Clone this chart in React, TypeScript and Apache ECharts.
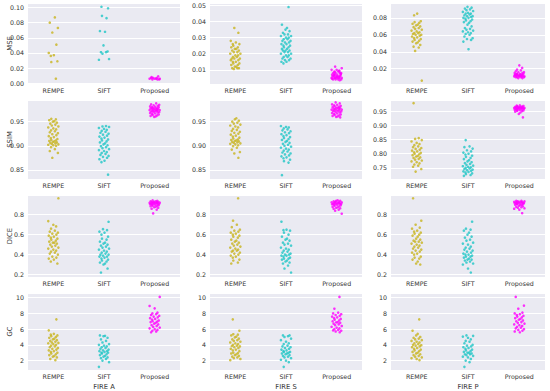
import React, { useEffect, useRef } from 'react';
import * as echarts from 'echarts';

const CATS = ['REMPE', 'SIFT', 'Proposed'];
const METRICS = ['MSE', 'SSIM', 'DICE', 'GC'];
const DATASETS = ['FIRE A', 'FIRE S', 'FIRE P'];

// ---- MSE ----
const MSE_A_REMPE = [0.087, 0.080, 0.073, 0.067, 0.051, 0.040, 0.037, 0.036, 0.029, 0.028, 0.006];
const MSE_A_SIFT = [0.101, 0.099, 0.089, 0.086, 0.069, 0.068, 0.050, 0.042, 0.041, 0.041, 0.039, 0.032, 0.031];
const MSE_A_PROP = [0.009, 0.008, 0.007, 0.007, 0.006, 0.006, 0.006, 0.005, 0.005, 0.006, 0.007, 0.005];

const MSE_S_REMPE = [0.036, 0.033, 0.028, 0.027, 0.026, 0.026, 0.025, 0.024, 0.024, 0.023, 0.023, 0.022, 0.022, 0.021, 0.021, 0.020, 0.020, 0.019, 0.019, 0.018, 0.018, 0.017, 0.017, 0.017, 0.016, 0.016, 0.015, 0.015, 0.014, 0.014, 0.013, 0.013, 0.012, 0.012, 0.011, 0.011, 0.011, 0.0105];
const MSE_S_SIFT = [0.049, 0.038, 0.036, 0.035, 0.034, 0.033, 0.032, 0.032, 0.031, 0.031, 0.030, 0.030, 0.029, 0.029, 0.028, 0.028, 0.027, 0.027, 0.026, 0.026, 0.025, 0.025, 0.024, 0.024, 0.023, 0.023, 0.022, 0.022, 0.022, 0.021, 0.021, 0.020, 0.020, 0.019, 0.019, 0.018, 0.018, 0.017, 0.017, 0.016, 0.016, 0.015, 0.015, 0.014];
const MSE_S_PROP = [0.012, 0.011, 0.010, 0.010, 0.009, 0.009, 0.009, 0.008, 0.008, 0.008, 0.008, 0.007, 0.007, 0.007, 0.007, 0.007, 0.006, 0.006, 0.006, 0.006, 0.006, 0.006, 0.005, 0.005, 0.005, 0.005, 0.005, 0.005, 0.005, 0.004, 0.004, 0.004, 0.004, 0.0035, 0.0045, 0.0055, 0.0065, 0.0075, 0.0085, 0.0095];

const MSE_P_REMPE = [0.085, 0.083, 0.076, 0.075, 0.074, 0.073, 0.072, 0.071, 0.070, 0.069, 0.068, 0.067, 0.066, 0.065, 0.064, 0.063, 0.062, 0.062, 0.061, 0.060, 0.060, 0.059, 0.058, 0.057, 0.056, 0.055, 0.054, 0.053, 0.052, 0.051, 0.050, 0.048, 0.046, 0.045, 0.041, 0.006];
const MSE_P_SIFT = [0.093, 0.092, 0.091, 0.090, 0.089, 0.088, 0.087, 0.086, 0.085, 0.085, 0.084, 0.083, 0.082, 0.082, 0.081, 0.080, 0.080, 0.079, 0.078, 0.077, 0.076, 0.075, 0.074, 0.072, 0.070, 0.068, 0.067, 0.066, 0.065, 0.064, 0.063, 0.062, 0.061, 0.060, 0.058, 0.056, 0.055, 0.054, 0.052, 0.043];
const MSE_P_PROP = [0.024, 0.021, 0.019, 0.018, 0.017, 0.016, 0.016, 0.015, 0.015, 0.014, 0.014, 0.014, 0.013, 0.013, 0.013, 0.013, 0.012, 0.012, 0.012, 0.012, 0.012, 0.011, 0.011, 0.011, 0.011, 0.010, 0.010, 0.010, 0.010, 0.009, 0.009, 0.0125, 0.0115, 0.0135];

// ---- SSIM ----
const SSIM_A_REMPE = [0.956, 0.955, 0.953, 0.951, 0.950, 0.948, 0.946, 0.944, 0.942, 0.940, 0.938, 0.936, 0.934, 0.932, 0.930, 0.928, 0.926, 0.924, 0.922, 0.920, 0.918, 0.916, 0.914, 0.912, 0.911, 0.910, 0.909, 0.908, 0.907, 0.906, 0.905, 0.904, 0.903, 0.902, 0.901, 0.900, 0.897, 0.893, 0.889, 0.885, 0.875];
const SSIM_A_SIFT = [0.941, 0.940, 0.939, 0.937, 0.935, 0.933, 0.931, 0.929, 0.927, 0.925, 0.923, 0.921, 0.919, 0.917, 0.915, 0.913, 0.911, 0.909, 0.907, 0.905, 0.903, 0.901, 0.899, 0.897, 0.895, 0.893, 0.891, 0.889, 0.887, 0.885, 0.883, 0.881, 0.879, 0.877, 0.875, 0.872, 0.869, 0.866, 0.840];
const SSIM_A_PROP = [0.988, 0.986, 0.985, 0.984, 0.983, 0.982, 0.981, 0.980, 0.980, 0.979, 0.978, 0.978, 0.977, 0.977, 0.976, 0.976, 0.975, 0.975, 0.974, 0.974, 0.973, 0.973, 0.972, 0.972, 0.971, 0.970, 0.970, 0.969, 0.968, 0.967, 0.966, 0.965, 0.964, 0.963, 0.962, 0.961, 0.960];

const SSIM_S_REMPE = [0.957, 0.955, 0.952, 0.950, 0.948, 0.946, 0.944, 0.942, 0.940, 0.938, 0.935, 0.933, 0.931, 0.929, 0.927, 0.925, 0.923, 0.921, 0.919, 0.917, 0.915, 0.913, 0.912, 0.911, 0.910, 0.909, 0.908, 0.907, 0.906, 0.905, 0.904, 0.903, 0.901, 0.899, 0.896, 0.892, 0.887, 0.884, 0.875];
const SSIM_S_SIFT = [0.941, 0.939, 0.938, 0.936, 0.934, 0.932, 0.930, 0.928, 0.926, 0.924, 0.922, 0.920, 0.918, 0.916, 0.914, 0.912, 0.910, 0.908, 0.906, 0.904, 0.902, 0.900, 0.898, 0.896, 0.894, 0.892, 0.890, 0.888, 0.886, 0.884, 0.882, 0.880, 0.878, 0.876, 0.874, 0.871, 0.868, 0.865, 0.839];
const SSIM_S_PROP = [0.990, 0.988, 0.986, 0.985, 0.984, 0.983, 0.982, 0.981, 0.980, 0.979, 0.979, 0.978, 0.977, 0.977, 0.976, 0.975, 0.975, 0.974, 0.974, 0.973, 0.972, 0.972, 0.971, 0.970, 0.969, 0.968, 0.967, 0.966, 0.965, 0.964, 0.963, 0.962, 0.961, 0.960, 0.959];

const SSIM_P_REMPE = [0.978, 0.855, 0.852, 0.848, 0.843, 0.838, 0.834, 0.830, 0.826, 0.823, 0.820, 0.817, 0.814, 0.811, 0.808, 0.805, 0.803, 0.800, 0.798, 0.795, 0.792, 0.790, 0.787, 0.785, 0.782, 0.779, 0.776, 0.773, 0.770, 0.766, 0.762, 0.758, 0.754, 0.746, 0.737];
const SSIM_P_SIFT = [0.848, 0.826, 0.823, 0.818, 0.812, 0.808, 0.804, 0.800, 0.797, 0.793, 0.789, 0.785, 0.781, 0.777, 0.773, 0.770, 0.767, 0.764, 0.761, 0.758, 0.756, 0.754, 0.752, 0.750, 0.748, 0.746, 0.744, 0.742, 0.740, 0.738, 0.736, 0.734, 0.731, 0.728, 0.725, 0.722];
const SSIM_P_PROP = [0.970, 0.969, 0.968, 0.967, 0.966, 0.965, 0.964, 0.964, 0.963, 0.963, 0.962, 0.962, 0.961, 0.961, 0.960, 0.960, 0.959, 0.959, 0.958, 0.958, 0.957, 0.956, 0.955, 0.954, 0.953, 0.952, 0.951, 0.950, 0.948, 0.945, 0.940, 0.928];

// ---- DICE ----
const DICE_A_REMPE = [0.965, 0.736, 0.699, 0.683, 0.66, 0.64, 0.63, 0.62, 0.61, 0.60, 0.59, 0.58, 0.57, 0.56, 0.55, 0.54, 0.53, 0.52, 0.52, 0.51, 0.50, 0.49, 0.48, 0.47, 0.46, 0.45, 0.44, 0.43, 0.42, 0.41, 0.40, 0.38, 0.37, 0.36, 0.35, 0.33, 0.31];
const DICE_A_SIFT = [0.729, 0.655, 0.645, 0.63, 0.62, 0.60, 0.58, 0.56, 0.55, 0.53, 0.52, 0.51, 0.50, 0.49, 0.48, 0.47, 0.46, 0.45, 0.44, 0.43, 0.42, 0.41, 0.40, 0.40, 0.39, 0.38, 0.38, 0.37, 0.36, 0.35, 0.34, 0.33, 0.32, 0.31, 0.30, 0.26, 0.22];
const DICE_A_PROP = [0.945, 0.94, 0.935, 0.935, 0.93, 0.93, 0.928, 0.925, 0.925, 0.922, 0.92, 0.92, 0.918, 0.915, 0.915, 0.912, 0.91, 0.91, 0.905, 0.905, 0.90, 0.90, 0.895, 0.89, 0.89, 0.885, 0.88, 0.875, 0.87, 0.86, 0.85, 0.813];

const DICE_S_REMPE = [0.965, 0.74, 0.70, 0.675, 0.65, 0.64, 0.63, 0.62, 0.61, 0.60, 0.59, 0.58, 0.57, 0.55, 0.54, 0.53, 0.52, 0.51, 0.50, 0.49, 0.48, 0.47, 0.46, 0.45, 0.44, 0.44, 0.43, 0.42, 0.41, 0.40, 0.39, 0.38, 0.37, 0.35, 0.34, 0.32, 0.31];
const DICE_S_SIFT = [0.73, 0.65, 0.645, 0.64, 0.62, 0.60, 0.58, 0.56, 0.55, 0.54, 0.52, 0.51, 0.50, 0.49, 0.47, 0.46, 0.45, 0.44, 0.43, 0.42, 0.41, 0.40, 0.40, 0.39, 0.39, 0.38, 0.37, 0.36, 0.36, 0.35, 0.34, 0.33, 0.32, 0.31, 0.29, 0.26, 0.22];
const DICE_S_PROP = [0.945, 0.94, 0.94, 0.935, 0.93, 0.93, 0.925, 0.925, 0.92, 0.92, 0.918, 0.915, 0.912, 0.91, 0.91, 0.908, 0.905, 0.90, 0.90, 0.895, 0.89, 0.885, 0.88, 0.875, 0.87, 0.865, 0.86, 0.85, 0.84, 0.81];

const DICE_P_REMPE = [0.965, 0.74, 0.70, 0.67, 0.66, 0.64, 0.63, 0.62, 0.61, 0.60, 0.59, 0.58, 0.56, 0.55, 0.54, 0.53, 0.53, 0.52, 0.51, 0.50, 0.49, 0.48, 0.47, 0.46, 0.45, 0.44, 0.43, 0.42, 0.41, 0.40, 0.38, 0.37, 0.36, 0.35, 0.33, 0.31, 0.30];
const DICE_P_SIFT = [0.73, 0.66, 0.65, 0.64, 0.62, 0.60, 0.58, 0.57, 0.55, 0.54, 0.52, 0.51, 0.50, 0.48, 0.47, 0.46, 0.45, 0.44, 0.43, 0.42, 0.41, 0.40, 0.40, 0.39, 0.38, 0.38, 0.37, 0.36, 0.35, 0.35, 0.34, 0.33, 0.32, 0.31, 0.30, 0.26, 0.22];
const DICE_P_PROP = [0.94, 0.94, 0.935, 0.935, 0.93, 0.93, 0.928, 0.925, 0.925, 0.922, 0.92, 0.918, 0.915, 0.915, 0.912, 0.91, 0.91, 0.905, 0.90, 0.90, 0.895, 0.89, 0.885, 0.88, 0.875, 0.87, 0.865, 0.86, 0.85, 0.815];

// ---- GC ----
const GC_A_REMPE = [7.25, 5.85, 5.4, 5.3, 5.2, 5.1, 5.0, 4.9, 4.8, 4.7, 4.6, 4.5, 4.4, 4.3, 4.25, 4.2, 4.1, 4.0, 3.9, 3.8, 3.7, 3.6, 3.5, 3.4, 3.3, 3.2, 3.1, 3.0, 2.9, 2.8, 2.7, 2.6, 2.5, 2.4, 2.2, 2.05];
const GC_A_SIFT = [5.2, 5.15, 5.1, 4.9, 4.7, 4.5, 4.3, 4.1, 4.0, 3.9, 3.8, 3.7, 3.6, 3.5, 3.4, 3.3, 3.2, 3.2, 3.1, 3.0, 3.0, 2.9, 2.8, 2.7, 2.6, 2.5, 2.4, 2.3, 2.2, 2.0, 1.8, 1.2];
const GC_A_PROP = [10.1, 8.95, 8.65, 8.1, 8.0, 7.9, 7.8, 7.7, 7.6, 7.5, 7.4, 7.3, 7.2, 7.1, 7.0, 6.95, 6.9, 6.8, 6.7, 6.6, 6.5, 6.4, 6.3, 6.2, 6.1, 6.0, 5.9, 5.8, 5.7, 5.6];

const GC_S_REMPE = [7.25, 5.8, 5.35, 5.3, 5.2, 5.05, 4.95, 4.8, 4.7, 4.6, 4.5, 4.4, 4.3, 4.2, 4.1, 4.0, 3.9, 3.85, 3.8, 3.7, 3.6, 3.5, 3.4, 3.3, 3.2, 3.0, 2.95, 2.9, 2.8, 2.7, 2.6, 2.5, 2.4, 2.3, 2.2, 2.05];
const GC_S_SIFT = [5.2, 5.2, 5.1, 5.0, 4.8, 4.6, 4.4, 4.2, 4.1, 3.9, 3.8, 3.7, 3.6, 3.5, 3.4, 3.3, 3.2, 3.1, 3.1, 3.0, 2.9, 2.9, 2.8, 2.7, 2.6, 2.5, 2.4, 2.3, 2.1, 2.0, 1.8, 1.2];
const GC_S_PROP = [10.1, 8.6, 8.1, 8.0, 7.9, 7.8, 7.7, 7.6, 7.5, 7.4, 7.3, 7.2, 7.1, 7.0, 6.9, 6.85, 6.8, 6.7, 6.6, 6.5, 6.4, 6.3, 6.2, 6.1, 6.0, 5.9, 5.85, 5.8, 5.7, 5.6];

const GC_P_REMPE = [7.25, 5.8, 5.4, 5.2, 5.0, 4.9, 4.8, 4.7, 4.6, 4.5, 4.4, 4.3, 4.2, 4.1, 4.0, 3.95, 3.9, 3.8, 3.7, 3.6, 3.5, 3.4, 3.3, 3.2, 3.1, 3.0, 2.9, 2.8, 2.7, 2.6, 2.5, 2.4, 2.3, 2.2, 2.05];
const GC_P_SIFT = [5.2, 5.15, 5.05, 4.9, 4.7, 4.5, 4.4, 4.2, 4.0, 3.9, 3.8, 3.7, 3.6, 3.5, 3.4, 3.3, 3.2, 3.1, 3.0, 3.0, 2.9, 2.8, 2.8, 2.7, 2.6, 2.5, 2.4, 2.2, 2.0, 1.8, 1.2];
const GC_P_PROP = [10.1, 9.0, 8.6, 8.1, 8.0, 7.9, 7.8, 7.7, 7.6, 7.5, 7.4, 7.3, 7.2, 7.1, 7.0, 6.9, 6.8, 6.7, 6.6, 6.5, 6.4, 6.3, 6.2, 6.1, 6.0, 5.9, 5.8, 5.7, 5.6];

const PANEL_DATA = [
  [[MSE_A_REMPE, MSE_A_SIFT, MSE_A_PROP], [MSE_S_REMPE, MSE_S_SIFT, MSE_S_PROP], [MSE_P_REMPE, MSE_P_SIFT, MSE_P_PROP]],
  [[SSIM_A_REMPE, SSIM_A_SIFT, SSIM_A_PROP], [SSIM_S_REMPE, SSIM_S_SIFT, SSIM_S_PROP], [SSIM_P_REMPE, SSIM_P_SIFT, SSIM_P_PROP]],
  [[DICE_A_REMPE, DICE_A_SIFT, DICE_A_PROP], [DICE_S_REMPE, DICE_S_SIFT, DICE_S_PROP], [DICE_P_REMPE, DICE_P_SIFT, DICE_P_PROP]],
  [[GC_A_REMPE, GC_A_SIFT, GC_A_PROP], [GC_S_REMPE, GC_S_SIFT, GC_S_PROP], [GC_P_REMPE, GC_P_SIFT, GC_P_PROP]],
];

// axis ranges [min, max, interval, decimals] per panel
const Y_AXES = [
  [[-0.001, 0.106, 0.02, 2], [0.0012, 0.0515, 0.01, 2], [0.002, 0.0975, 0.02, 2]],
  [[0.831, 0.995, 0.05, 2], [0.831, 0.995, 0.05, 2], [0.711, 0.989, 0.05, 2]],
  [[0.175, 0.998, 0.2, 1], [0.175, 0.998, 0.2, 1], [0.175, 0.998, 0.2, 1]],
  [[0.8, 10.6, 2, 0], [0.8, 10.6, 2, 0], [0.8, 10.6, 2, 0]],
];

// stripplot horizontal jitter offsets (category units), cycled
const JITTER = [0.03, -0.07, 0.09, -0.02, 0.06, -0.09, 0.01, -0.05, 0.08, -0.04, 0.05, -0.08, 0.02, -0.01, 0.07, -0.06, 0.04, -0.03, 0.1, -0.1, 0, 0.055, -0.045];

const COLORS = ['#c8b41e', '#1fc6c6', '#ff00ff'];
const COL_LEFT = [28, 210, 391];
const COL_W = [152, 152, 154];
const ROW_TOP = [3, 100, 195, 293];
const ROW_H = [81, 79, 82, 79];
const FONT = 'DejaVu Sans';
const TXT = '#333333';

function buildOption() {
  const grid: any[] = [];
  const xAxis: any[] = [];
  const yAxis: any[] = [];
  const series: any[] = [];
  METRICS.forEach((metric, r) => {
    DATASETS.forEach((ds, c) => {
      const k = r * 3 + c;
      grid.push({
        left: COL_LEFT[c], top: ROW_TOP[r], width: COL_W[c], height: ROW_H[r],
        show: true, backgroundColor: '#eaeaf2', borderWidth: 0,
      });
      xAxis.push({
        type: 'value', gridIndex: k, min: -0.5, max: 2.5, show: false,
      });
      xAxis.push({
        type: 'category', gridIndex: k, data: CATS, boundaryGap: true, position: 'bottom',
        axisLine: { show: false }, axisTick: { show: false }, splitLine: { show: false },
        axisLabel: { fontSize: 6.3, color: TXT, fontFamily: FONT, margin: 3 },
        name: r === 3 ? ds : '', nameLocation: 'middle', nameGap: 13, nameMoveOverlap: false,
        nameTextStyle: { fontSize: 6.8, color: TXT, fontFamily: FONT },
      });
      const [mn, mx, iv, dec] = Y_AXES[r][c];
      yAxis.push({
        type: 'value', gridIndex: k, min: mn, max: mx, minInterval: iv, maxInterval: iv,
        axisLine: { show: false }, axisTick: { show: false },
        splitLine: { show: true, lineStyle: { color: '#ffffff', width: 1 } },
        axisLabel: {
          fontSize: 6.3, color: TXT, fontFamily: FONT, margin: 4,
          showMinLabel: false, showMaxLabel: false,
          formatter: (v: number) => v.toFixed(dec as number),
        },
        name: c === 0 ? metric : '', nameLocation: 'middle', nameGap: 15, nameMoveOverlap: false,
        nameTextStyle: { fontSize: 6.8, color: TXT, fontFamily: FONT },
      });
      PANEL_DATA[r][c].forEach((vals, ci) => {
        series.push({
          type: 'scatter', xAxisIndex: 2 * k, yAxisIndex: k,
          symbol: 'circle', symbolSize: 2.6,
          itemStyle: { color: COLORS[ci] },
          data: vals.map((v, i) => [ci + JITTER[(i + ci * 7 + k * 3) % JITTER.length], v]),
        });
      });
    });
  });
  return { animation: false, backgroundColor: '#ffffff', grid, xAxis, yAxis, series };
}

export default function App() {
  const ref = useRef<HTMLDivElement>(null);
  useEffect(() => {
    document.body.style.margin = '0';
    const chart = echarts.init(ref.current!, null, { renderer: 'svg' });
    chart.setOption(buildOption() as any);
    return () => chart.dispose();
  }, []);
  return <div ref={ref} style={{ width: 550, height: 391 }} />;
}
